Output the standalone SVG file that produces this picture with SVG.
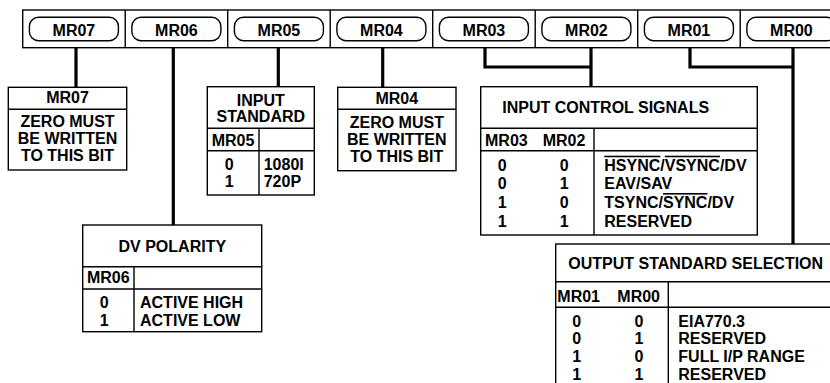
<svg xmlns="http://www.w3.org/2000/svg" width="830" height="383" viewBox="0 0 830 383">
<style>
text{font-family:"Liberation Sans",Arial,Helvetica,sans-serif;font-weight:bold;font-size:16px;fill:#000}
.c{text-anchor:middle}
.box{fill:#fff;stroke:#000;stroke-width:1.4}
.ln{stroke:#000;stroke-width:1.4;fill:none}
.pill{fill:#fff;stroke:#000;stroke-width:1.4}
.wire{stroke:#000;stroke-width:3.2;fill:none}
.ov{text-decoration:overline}
</style>
<rect width="830" height="383" fill="#fff"/>
<g id="register">
<rect class="box" x="22.7" y="10" width="830" height="37.7"/>
<path class="ln" d="M125.2 10V47.7M227.7 10V47.7M330.2 10V47.7M432.7 10V47.7M535.2 10V47.7M637.7 10V47.7M740.2 10V47.7"/>
<g id="bit-mr07"><rect class="pill" x="29.4" y="17.3" width="89" height="23.4" rx="9"/><text class="c" x="73.9" y="36">MR07</text></g>
<g id="bit-mr06"><rect class="pill" x="131.9" y="17.3" width="89" height="23.4" rx="9"/><text class="c" x="176.4" y="36">MR06</text></g>
<g id="bit-mr05"><rect class="pill" x="234.4" y="17.3" width="89" height="23.4" rx="9"/><text class="c" x="278.9" y="36">MR05</text></g>
<g id="bit-mr04"><rect class="pill" x="336.9" y="17.3" width="89" height="23.4" rx="9"/><text class="c" x="381.4" y="36">MR04</text></g>
<g id="bit-mr03"><rect class="pill" x="439.4" y="17.3" width="89" height="23.4" rx="9"/><text class="c" x="483.9" y="36">MR03</text></g>
<g id="bit-mr02"><rect class="pill" x="541.9" y="17.3" width="89" height="23.4" rx="9"/><text class="c" x="586.4" y="36">MR02</text></g>
<g id="bit-mr01"><rect class="pill" x="644.4" y="17.3" width="89" height="23.4" rx="9"/><text class="c" x="688.9" y="36">MR01</text></g>
<g id="bit-mr00"><rect class="pill" x="746.9" y="17.3" width="89" height="23.4" rx="9"/><text class="c" x="791.4" y="36">MR00</text></g>
</g>
<g id="connectors">
<path class="wire" d="M76 47.7V87.3"/>
<path class="wire" d="M173.3 47.7V225"/>
<path class="wire" d="M278.3 47.7V86.7"/>
<path class="wire" d="M382.7 47.7V87.3"/>
<path class="wire" d="M485 47.7V67H591"/>
<path class="wire" d="M591 47.7V86.7"/>
<path class="wire" d="M690 47.7V67H793"/>
<path class="wire" d="M793 47.7V244"/>
</g>
<g id="mr07-box">
<rect class="box" x="8.3" y="87.3" width="118.4" height="82.7"/>
<path class="ln" d="M8.3 109.3H126.7"/>
<text class="c" x="67.5" y="103.3">MR07</text>
<text class="c" x="67.5" y="127.3">ZERO MUST</text>
<text class="c" x="67.5" y="144.3">BE WRITTEN</text>
<text class="c" x="67.5" y="161.3">TO THIS BIT</text>
</g>
<g id="mr04-box">
<rect class="box" x="337.7" y="87.3" width="118.3" height="83.4"/>
<path class="ln" d="M337.7 109.3H456"/>
<text class="c" x="396.8" y="104">MR04</text>
<text class="c" x="396.8" y="128.3">ZERO MUST</text>
<text class="c" x="396.8" y="145.3">BE WRITTEN</text>
<text class="c" x="396.8" y="162.3">TO THIS BIT</text>
</g>
<g id="input-standard">
<rect class="box" x="207.3" y="86.7" width="107" height="108.3"/>
<path class="ln" d="M207.3 128.3H314.3M207.3 150.7H314.3M259 128.3V195"/>
<text class="c" x="260.8" y="105.7">INPUT</text>
<text class="c" x="260.8" y="121.7">STANDARD</text>
<text class="c" x="233" y="146">MR05</text>
<text class="c" x="229.3" y="170">0</text>
<text class="c" x="229.3" y="186.7">1</text>
<text x="263.7" y="170">1080I</text>
<text x="263.7" y="186.7">720P</text>
</g>
<g id="dv-polarity">
<rect class="box" x="82.7" y="225" width="179" height="106.7"/>
<path class="ln" d="M82.7 266.7H261.7M82.7 289H261.7M134 266.7V331.7"/>
<text class="c" x="172.3" y="251.7">DV POLARITY</text>
<text class="c" x="108.3" y="283.3">MR06</text>
<text class="c" x="104.3" y="307.7">0</text>
<text class="c" x="104.3" y="325.7">1</text>
<text x="140" y="307.7">ACTIVE HIGH</text>
<text x="140" y="325.7">ACTIVE LOW</text>
</g>
<g id="input-control-signals">
<rect class="box" x="480.7" y="86.7" width="276.6" height="148.3"/>
<path class="ln" d="M480.7 128.3H757.3M480.7 150.7H757.3M594 128.3V235"/>
<text x="502.3" y="113.3">INPUT CONTROL SIGNALS</text>
<text x="485" y="145.7">MR03</text>
<text x="542.7" y="145.7">MR02</text>
<text class="c" x="502.3" y="170.7">0</text>
<text class="c" x="502.3" y="189.3">0</text>
<text class="c" x="502.3" y="208">1</text>
<text class="c" x="502.3" y="226.7">1</text>
<text class="c" x="564.3" y="170.7">0</text>
<text class="c" x="564.3" y="189.3">1</text>
<text class="c" x="564.3" y="208">0</text>
<text class="c" x="564.3" y="226.7">1</text>
<text x="604.3" y="170.7"><tspan class="ov">HSYNC</tspan>/<tspan class="ov">VSYNC</tspan>/DV</text>
<text x="604.3" y="189.3">EAV/SAV</text>
<text x="604.3" y="208">TSYNC/<tspan class="ov">SYNC</tspan>/DV</text>
<text x="604.3" y="226.7">RESERVED</text>
</g>
<g id="output-standard-selection">
<rect class="box" x="555.7" y="244" width="290" height="150"/>
<path class="ln" d="M555.7 281.7H830M555.7 307.3H830M668.3 281.7V390"/>
<text x="568.3" y="269.3">OUTPUT STANDARD SELECTION</text>
<text x="557.3" y="301.7">MR01</text>
<text x="617.3" y="301.7">MR00</text>
<text class="c" x="576.7" y="326.7">0</text>
<text class="c" x="576.7" y="344.3">0</text>
<text class="c" x="576.7" y="362">1</text>
<text class="c" x="576.7" y="379.7">1</text>
<text class="c" x="639" y="326.7">0</text>
<text class="c" x="639" y="344.3">1</text>
<text class="c" x="639" y="362">0</text>
<text class="c" x="639" y="379.7">1</text>
<text x="678.3" y="326.7">EIA770.3</text>
<text x="678.3" y="344.3">RESERVED</text>
<text x="678.3" y="362">FULL I/P RANGE</text>
<text x="678.3" y="379.7">RESERVED</text>
</g>
</svg>
